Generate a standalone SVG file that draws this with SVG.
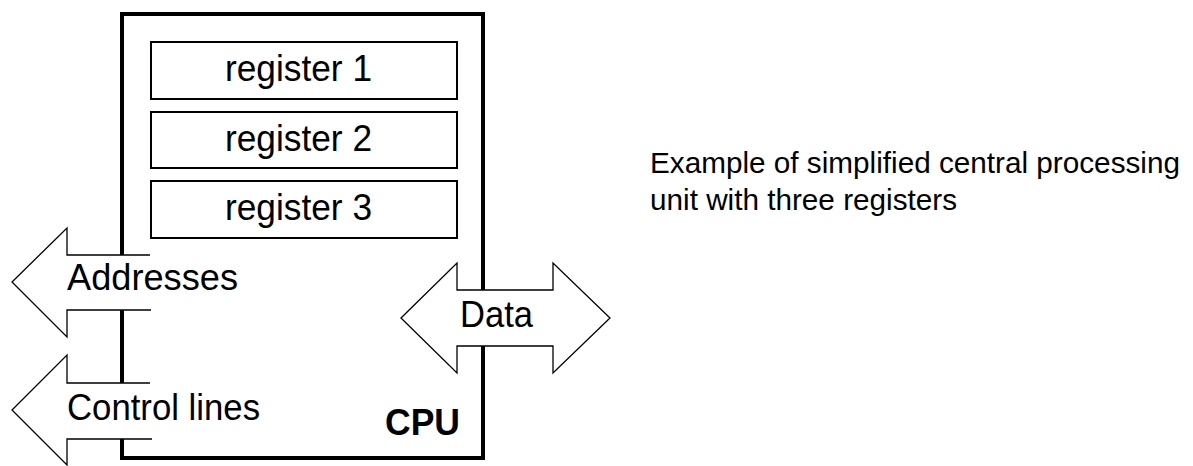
<svg xmlns="http://www.w3.org/2000/svg" width="1193" height="466" viewBox="0 0 1193 466">
  <style>
    .cpu { fill: none; stroke: #000; stroke-width: 4; stroke-linejoin: miter; stroke-linecap: butt; }
    .reg { fill: #fff; stroke: #000; stroke-width: 2; }
    .bus { fill: #fff; stroke: #000; stroke-width: 1.3; stroke-linejoin: miter; }
    .busfill { fill: #fff; stroke: none; }
    .lbl { font-family: "Liberation Sans", Arial, sans-serif; font-size: 36px; fill: #000; }
    .reglbl { font-family: "Liberation Sans", Arial, sans-serif; font-size: 37px; fill: #000; }
    .cap { font-family: "Liberation Sans", Arial, sans-serif; font-size: 30px; fill: #000; }
    .bold { font-family: "Liberation Sans", Arial, sans-serif; font-size: 37px; font-weight: bold; fill: #000; }
  </style>
  <rect width="1193" height="466" fill="#fff"/>

  <g id="cpu">
    <path class="cpu" d="M122,255 V14 H483 V290 M483,346 V458 H122 V439 M122,383 V310"/>
    <text class="bold" x="385" y="435" textLength="75" lengthAdjust="spacingAndGlyphs">CPU</text>
  </g>

  <g id="register1">
    <rect class="reg" x="151" y="42" width="306" height="57"/>
    <text class="reglbl" x="225" y="81" textLength="147" lengthAdjust="spacingAndGlyphs">register 1</text>
  </g>
  <g id="register2">
    <rect class="reg" x="151" y="112" width="306" height="56"/>
    <text class="reglbl" x="225" y="151" textLength="147" lengthAdjust="spacingAndGlyphs">register 2</text>
  </g>
  <g id="register3">
    <rect class="reg" x="151" y="181" width="306" height="57"/>
    <text class="reglbl" x="225" y="220" textLength="147" lengthAdjust="spacingAndGlyphs">register 3</text>
  </g>

  <g id="connectors">
    <g id="addresses">
      <polygon class="busfill" points="150,255 67,255 67,228 12,282 67,337 67,310 150,310"/>
      <polyline class="bus" style="fill:none" points="150,255 67,255 67,228 12,282 67,337 67,310 151,310"/>
      <text class="lbl" x="67" y="290" textLength="171" lengthAdjust="spacingAndGlyphs">Addresses</text>
    </g>
    <g id="control">
      <polygon class="busfill" points="150,383 67,383 67,355 12,410 67,465 67,439 152,439"/>
      <polyline class="bus" style="fill:none" points="150,383 67,383 67,355 12,410 67,465 67,439 152,439"/>
      <text class="lbl" x="67" y="420" textLength="193" lengthAdjust="spacingAndGlyphs">Control lines</text>
    </g>
    <g id="data">
      <polygon class="bus" points="401,318 457,263 457,290 553,290 553,263 610,318 553,373 553,346 457,346 457,373"/>
      <text class="lbl" x="460" y="327" textLength="73" lengthAdjust="spacingAndGlyphs">Data</text>
    </g>
  </g>

  <g id="caption">
    <text class="cap" x="650" y="173" textLength="530" lengthAdjust="spacingAndGlyphs">Example of simplified central processing</text>
    <text class="cap" x="650" y="210" textLength="307" lengthAdjust="spacingAndGlyphs">unit with three registers</text>
  </g>
</svg>
